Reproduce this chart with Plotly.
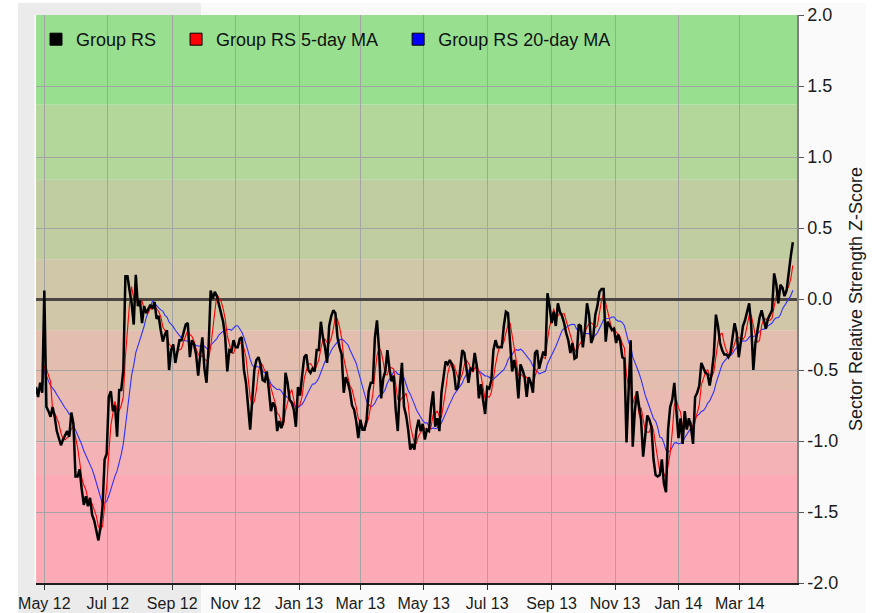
import pandas as pd
import plotly.graph_objects as go

# ---------------------------------------------------------------------------
# Data: sector relative-strength z-score, sampled every second calendar day
# ---------------------------------------------------------------------------
START_DATE = "2012-04-23"

group_rs = [
    -0.62, -0.69, -0.59, -0.66, 0.06, -0.76, -0.79, -0.83, -0.76, -0.83,
    -0.93, -0.99, -1.03, -0.99, -0.96, -0.93, -0.97, -0.80, -0.88, -1.25,
    -1.25, -1.20, -1.34, -1.45, -1.39, -1.46, -1.40, -1.52, -1.56, -1.63,
    -1.70, -1.61, -1.46, -1.13, -1.09, -0.69, -0.65, -0.79, -0.75, -0.97,
    -0.64, -0.64, -0.50, 0.16, 0.16, 0.06, -0.03, -0.18, 0.17, -0.05,
    -0.01, -0.17, -0.05, -0.10, -0.07, -0.04, -0.07, -0.02, -0.14, -0.12,
    -0.22, -0.30, -0.25, -0.22, -0.50, -0.36, -0.32, -0.45, -0.37, -0.29,
    -0.29, -0.24, -0.18, -0.17, -0.41, -0.29, -0.32, -0.39, -0.54, -0.39,
    -0.27, -0.49, -0.59, -0.34, 0.06, 0.00, 0.05, 0.02, -0.04, -0.09,
    -0.16, -0.27, -0.51, -0.36, -0.37, -0.29, -0.34, -0.34, -0.28, -0.27,
    -0.50, -0.59, -0.76, -0.92, -0.71, -0.50, -0.43, -0.41, -0.46, -0.57,
    -0.58, -0.51, -0.64, -0.79, -0.73, -0.76, -0.93, -0.86, -0.91, -0.86,
    -0.52, -0.59, -0.71,
    -0.73, -0.78, -0.90, -0.62, -0.68, -0.54, -0.41, -0.39, -0.50, -0.52,
    -0.49, -0.51, -0.36, -0.36, -0.16, -0.27, -0.34, -0.45, -0.19, -0.12,
    -0.08, -0.10, -0.27, -0.34, -0.39, -0.66, -0.55, -0.59, -0.65, -0.75,
    -0.78, -0.86, -0.98, -0.85, -0.92, -0.92, -0.85, -0.65, -0.59, -0.59,
    -0.27, -0.15, -0.36, -0.70, -0.56, -0.51, -0.36, -0.49, -0.58, -0.54,
    -0.78, -0.93, -0.62, -0.45, -0.76, -0.82, -0.92, -1.06, -1.02, -1.06,
    -0.92, -0.85, -0.93, -0.88, -0.99, -0.92, -0.93, -0.76, -0.65, -0.90,
    -0.84, -0.93, -0.66, -0.55, -0.44, -0.46, -0.43, -0.46, -0.51, -0.64,
    -0.62, -0.50, -0.36, -0.38, -0.48, -0.59, -0.49, -0.50, -0.38, -0.47,
    -0.70, -0.60, -0.71, -0.81, -0.62, -0.63, -0.57, -0.36, -0.29, -0.34,
    -0.34, -0.34, -0.19, -0.09, -0.10, -0.29, -0.51, -0.43, -0.51, -0.70,
    -0.46, -0.50, -0.55, -0.69, -0.55, -0.59, -0.66, -0.38, -0.36, -0.49,
    -0.42, -0.37,
    -0.40, 0.04, -0.05, -0.17, -0.09, -0.19, -0.03, -0.09, -0.12, -0.17,
    -0.24, -0.29, -0.38, -0.31, -0.42, -0.41, -0.18, -0.19, -0.34, -0.22,
    -0.03, -0.11, -0.31, -0.27, -0.11, -0.05, 0.05, 0.07, 0.07, -0.30,
    -0.16, -0.19, -0.22, -0.21, -0.31, -0.25, -0.30, -0.41, -0.42, -1.01,
    -0.62, -0.29, -1.04, -0.79, -0.65, -0.77, -0.85, -1.11, -0.97, -0.82,
    -0.85, -0.90, -1.13, -1.24, -1.25, -1.24, -1.13, -1.30, -1.36, -0.92,
    -0.76, -0.71, -0.59, -0.78, -0.98, -0.84, -1.02, -0.79, -0.92, -0.84,
    -0.90, -1.02, -0.69, -0.66, -0.61, -0.45, -0.49, -0.52, -0.53, -0.61,
    -0.52, -0.39, -0.11, -0.19, -0.31, -0.36, -0.39, -0.39, -0.41, -0.38,
    -0.27, -0.17, -0.24, -0.41, -0.30, -0.19, -0.15, -0.08, -0.03, -0.19,
    -0.50, -0.31, -0.22, -0.13, -0.08, -0.14, -0.21, -0.14, -0.11, -0.08,
    0.18, 0.11, -0.03, 0.10, 0.08, 0.02, 0.06, 0.19, 0.30, 0.40,
]

series_names = ["Group RS", "Group RS 5-day MA", "Group RS 20-day MA"]
series_colors = ["#000000", "#ff0000", "#0000ff"]

month_ticks = [
    "2012-05-01", "2012-07-01", "2012-09-01", "2012-11-01", "2013-01-01",
    "2013-03-01", "2013-05-01", "2013-07-01", "2013-09-01", "2013-11-01",
    "2014-01-01", "2014-03-01",
]
month_labels = [
    "May 12", "Jul 12", "Sep 12", "Nov 12", "Jan 13", "Mar 13",
    "May 13", "Jul 13", "Sep 13", "Nov 13", "Jan 14", "Mar 14",
]
z_ticks = [-2.0, -1.5, -1.0, -0.5, 0.0, 0.5, 1.0, 1.5, 2.0]
z_labels = ["-2.0", "-1.5", "-1.0", "-0.5", "0.0", "0.5", "1.0", "1.5", "2.0"]

# ---------------------------------------------------------------------------
# Moving averages (5 and 20 trading days ~ 7 and 28 calendar days)
# ---------------------------------------------------------------------------
dates = pd.date_range(START_DATE, periods=len(group_rs), freq="2D")
rs = pd.Series(group_rs, index=dates)
ma5 = rs.rolling("7D").mean()
ma20 = rs.rolling("28D").mean()

# ---------------------------------------------------------------------------
# Figure geometry / styling
# ---------------------------------------------------------------------------
W, H = 878, 613
ML, MR, MT, MB = 36, 81, 15, 30
PW, PH = W - ML - MR, H - MT - MB


def px_x(px):
    return (px - ML) / PW


def px_y(py):
    return (H - MB - py) / PH


FONT = "Liberation Sans, Arial, Helvetica, sans-serif"

# background colour bands, green (strong) at the top to pink (weak) at the bottom
band_edges = [-2.0, -1.24, -1.01, -0.64, -0.22, 0.28, 0.84, 1.37, 2.0]
band_colors = ["#fcaab6", "#f5b2b6", "#e9b9b2", "#e3bdad", "#d0c6a8",
               "#c0cda0", "#b3d69b", "#98e08f"]

fig = go.Figure()

# moving averages first so the raw series sits on top of them
fig.add_trace(go.Scatter(x=dates, y=ma20, mode="lines", name=series_names[2],
                         line=dict(color="#3030ff", width=1.1),
                         showlegend=False, hoverinfo="skip"))
fig.add_trace(go.Scatter(x=dates, y=ma5, mode="lines", name=series_names[1],
                         line=dict(color=series_colors[1], width=1.1),
                         showlegend=False, hoverinfo="skip"))
fig.add_trace(go.Scatter(x=dates, y=rs, mode="lines", name=series_names[0],
                         line=dict(color=series_colors[0], width=2.5),
                         showlegend=False, hoverinfo="skip"))

# square legend swatches
for name, color in zip(series_names, series_colors):
    fig.add_trace(go.Scatter(x=[None], y=[None], mode="markers",
                             name=name + "\u00a0\u00a0\u00a0",
                             marker=dict(symbol="square", size=12, color=color,
                                         line=dict(color="black", width=1))))

shapes = []
# page panels behind the chart
shapes.append(dict(type="rect", xref="paper", yref="paper",
                   x0=px_x(18), x1=px_x(866), y0=px_y(613), y1=px_y(3),
                   fillcolor="#fafafa", line_width=0, layer="below"))
shapes.append(dict(type="rect", xref="paper", yref="paper",
                   x0=px_x(18), x1=px_x(201), y0=px_y(613), y1=px_y(3),
                   fillcolor="#ebebeb", line_width=0, layer="below"))
for lo, hi, col in zip(band_edges[:-1], band_edges[1:], band_colors):
    shapes.append(dict(type="rect", xref="paper", yref="y", x0=0, x1=1,
                       y0=lo, y1=hi, fillcolor=col, line_width=0, layer="below"))
# white left edge of the plotting area
shapes.append(dict(type="line", xref="paper", yref="paper", x0=-0.7 / PW,
                   x1=-0.7 / PW, y0=0, y1=1, line=dict(color="white", width=1.5),
                   layer="above"))

fig.update_layout(
    width=W, height=H,
    margin=dict(l=ML, r=MR, t=MT, b=MB, pad=0, autoexpand=False),
    paper_bgcolor="white",
    plot_bgcolor="rgba(0,0,0,0)",
    font=dict(family=FONT, color="#1a1a1a"),
    shapes=shapes,
    showlegend=True,
    legend=dict(orientation="h", x=0.0, y=px_y(21), xanchor="left",
                yanchor="top", bgcolor="rgba(0,0,0,0)",
                font=dict(family=FONT, size=18, color="#111111")),
)

fig.update_xaxes(
    automargin=False,
    range=["2012-04-23", "2014-04-25"],
    tickvals=month_ticks, ticktext=month_labels,
    showgrid=True, gridcolor="#a4a4a4", gridwidth=1,
    ticks="outside", ticklen=5, tickcolor="#333333",
    showline=True, linecolor="#1e1e1e", linewidth=1.5,
    tickfont=dict(family=FONT, size=16, color="#1a1a1a"),
    zeroline=False,
)
fig.update_yaxes(
    automargin=False,
    side="right", range=[-2, 2],
    tickvals=z_ticks, ticktext=z_labels,
    showgrid=True, gridcolor="#a4a4a4", gridwidth=1,
    ticks="outside", ticklen=5, tickcolor="#555555",
    showline=True, linecolor="#808080", linewidth=1.5,
    tickfont=dict(family=FONT, size=18, color="#1a1a1a"),
    zeroline=True, zerolinecolor="#4a4540", zerolinewidth=2.5,
    title=dict(text="Sector Relative Strength Z-Score", standoff=12,
               font=dict(family=FONT, size=18, color="#1a1a1a")),
)

fig.write_html("out.html")
